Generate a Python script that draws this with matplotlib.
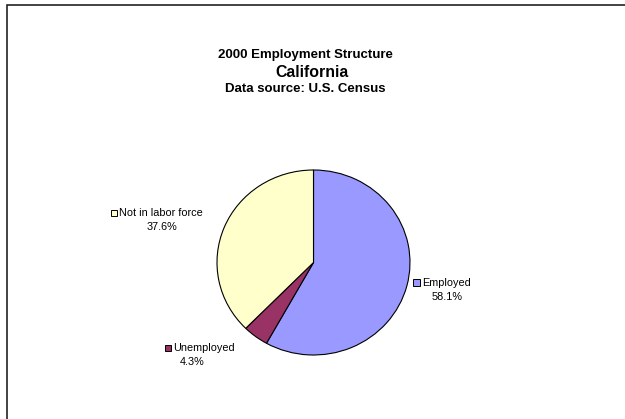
import matplotlib.pyplot as plt
from matplotlib.patches import Rectangle

# 2000 employment structure, California (U.S. Census)
categorias = ['Employed', 'Unemployed', 'Not in labor force']
porcentajes = [58.1, 4.3, 37.6]
colores = ['#9999FF', '#993366', '#FFFFCC']

W, H = 625, 419
fig = plt.figure(figsize=(W / 100, H / 100), dpi=100)

# pie axes (slightly wider than tall, like the original sheet chart)
cx, cy, rx, ry = 313.5, 262.5, 96.5, 92.5
ax = fig.add_axes([(cx - rx) / W, 1 - (cy + ry) / H, 2 * rx / W, 2 * ry / H])
ax.pie(porcentajes, colors=colores, startangle=90, counterclock=False,
       radius=1, wedgeprops=dict(edgecolor='black', linewidth=0.8))
ax.set_aspect('auto')
ax.set_xlim(-1, 1)
ax.set_ylim(-1, 1)
ax.axis('off')

# overlay in pixel coordinates for titles, labels and frame
ov = fig.add_axes([0, 0, 1, 1], facecolor='none')
ov.set_xlim(0, W)
ov.set_ylim(H, 0)
ov.axis('off')

ov.plot([7, 7, W], [H, 5, 5], color='#222222', lw=1.2, solid_joinstyle='miter')

fuente = 'Liberation Sans'
ov.text(305.5, 58.3, '2000 Employment Structure', ha='center', va='baseline',
        fontsize=9.5, fontweight='bold', family=fuente)
ov.text(311.5, 76.7, 'California', ha='center', va='baseline',
        fontsize=11.4, fontweight='bold', family=fuente)
ov.text(305, 92.3, 'Data source: U.S. Census', ha='center', va='baseline',
        fontsize=9.5, fontweight='bold', family=fuente)

# label layout: (marker x, marker y, marker size, value x, value y)
etiquetas_pos = [(416.5, 282.7, 7, 446.7, 296.7),
                 (168, 348, 5.5, 191.7, 361.7),
                 (114, 213, 5.5, 161.7, 226.7)]

for nombre, pct, col, (mx, my, ms, vx, vy) in zip(categorias, porcentajes, colores, etiquetas_pos):
    ov.add_patch(Rectangle((mx - ms / 2, my - ms / 2), ms, ms, facecolor=col,
                           edgecolor='black', lw=0.7))
    ov.text(mx + ms / 2 + 2, my, nombre, ha='left', va='center',
            fontsize=7.8, family=fuente)
    ov.text(vx, vy, f'{pct:.1f}%', ha='center', va='center',
            fontsize=7.8, family=fuente)

fig.savefig('out.png', dpi=100)
